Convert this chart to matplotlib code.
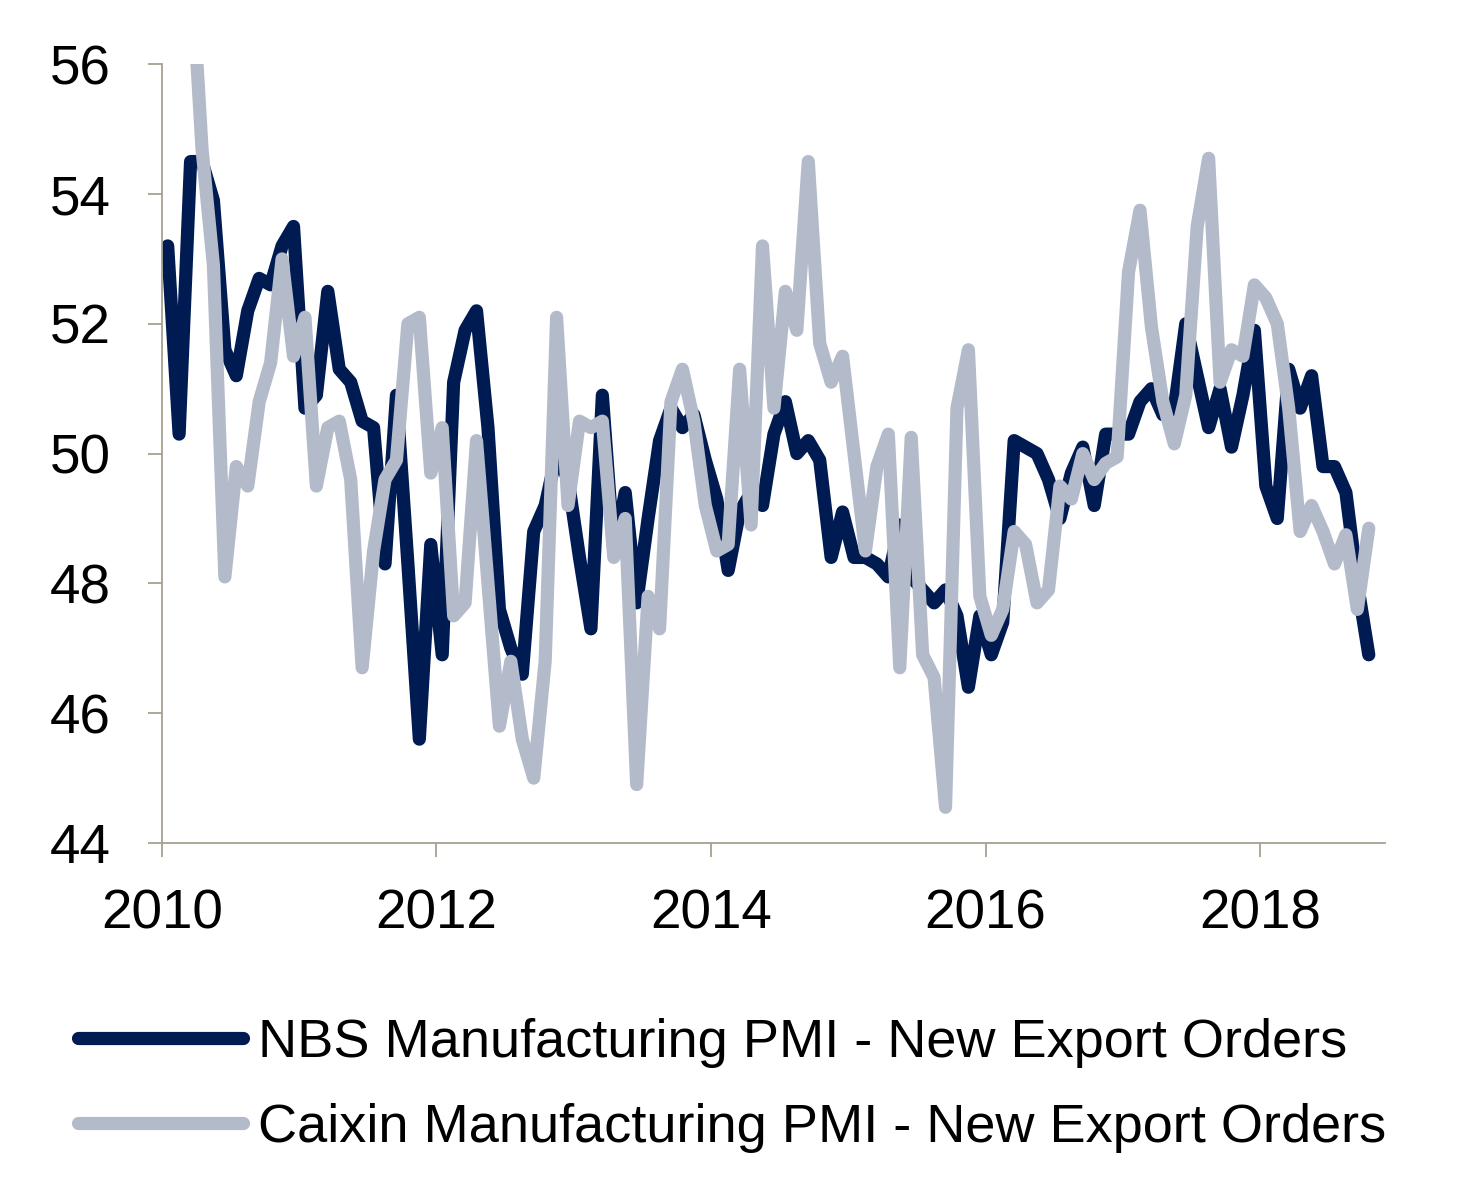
import matplotlib
matplotlib.use("Agg")
import matplotlib.pyplot as plt
import numpy as np

plt.rcParams['font.family'] = ['Liberation Sans', 'DejaVu Sans']

# monthly readings, Jan 2010 - Oct 2018
nbs = [53.2, 50.3, 54.5, 54.5, 53.9, 51.6, 51.2, 52.2, 52.7, 52.6, 53.2, 53.5,
       50.7, 50.9, 52.5, 51.3, 51.1, 50.5, 50.4, 48.3, 50.9, 48.3, 45.6, 48.6,
       46.9, 51.1, 51.9, 52.2, 50.4, 47.6, 47.0, 46.6, 48.8, 49.2, 50.0, 49.6,
       48.4, 47.3, 50.9, 48.5, 49.4, 47.7, 49.0, 50.2, 50.7, 50.4, 50.6, 49.9,
       49.3, 48.2, 49.1, 49.4, 49.2, 50.3, 50.8, 50.0, 50.2, 49.9, 48.4, 49.1,
       48.4, 48.4, 48.3, 48.1, 48.9, 48.1, 47.9, 47.7, 47.9, 47.5, 46.4, 47.5,
       46.9, 47.4, 50.2, 50.1, 50.0, 49.6, 49.0, 49.7, 50.1, 49.2, 50.3, 50.3,
       50.3, 50.8, 51.0, 50.6, 50.7, 52.0, 51.2, 50.4, 51.0, 50.1, 50.9, 51.9,
       49.5, 49.0, 51.3, 50.7, 51.2, 49.8, 49.8, 49.4, 48.0, 46.9]

caixin = [57.2, 57.5, 57.7, 54.7, 52.9, 48.1, 49.8, 49.5, 50.8, 51.4, 53.0, 51.5,
          52.1, 49.5, 50.4, 50.5, 49.6, 46.7, 48.5, 49.6, 49.9, 52.0, 52.1, 49.7,
          50.4, 47.5, 47.7, 50.2, 48.0, 45.8, 46.8, 45.6, 45.0, 46.8, 52.1, 49.2,
          50.5, 50.4, 50.5, 48.4, 49.0, 44.9, 47.8, 47.3, 50.8, 51.3, 50.5, 49.2,
          48.5, 48.6, 51.3, 48.9, 53.2, 50.7, 52.5, 51.9, 54.5, 51.7, 51.1, 51.5,
          50.0, 48.5, 49.8, 50.3, 46.7, 50.25, 46.9, 46.55, 44.55, 50.7, 51.6, 47.8,
          47.2, 47.6, 48.8, 48.6, 47.7, 47.9, 49.5, 49.3, 50.0, 49.6, 49.85, 49.95,
          52.8, 53.75, 51.95, 50.8, 50.15, 50.9, 53.5, 54.55, 51.1, 51.6, 51.5, 52.6,
          52.4, 52.0, 50.7, 48.8, 49.2, 48.8, 48.3, 48.75, 47.6, 48.85]

labels = ['NBS Manufacturing PMI - New Export Orders',
          'Caixin Manufacturing PMI - New Export Orders']
year_ticks = [2010, 2012, 2014, 2016, 2018]
y_ticks = [44, 46, 48, 50, 52, 54, 56]

# mid-month positions in fractional years
t = 2010 + (np.arange(len(nbs)) + 0.5) / 12

navy = '#001a52'
grey = '#b3bac9'
axis_col = '#a6a08f'

fig = plt.figure(figsize=(14.63, 12), dpi=100)
ax = fig.add_axes([0.1107, 0.2975, 0.836, 0.649])

ax.plot(t, nbs, color=navy, lw=9.5, solid_joinstyle='round', solid_capstyle='round', label=labels[0])
ax.plot(t, caixin, color=grey, lw=9.5, solid_joinstyle='round', solid_capstyle='round', label=labels[1])

ax.set_xlim(2010, 2018.91)
ax.set_ylim(44, 56)
ax.set_xticks(year_ticks)
ax.set_xticklabels([str(y) for y in year_ticks])
ax.set_yticks(y_ticks)

for side in ['top', 'right']:
    ax.spines[side].set_visible(False)
for side in ['left', 'bottom']:
    ax.spines[side].set_color(axis_col)
    ax.spines[side].set_linewidth(1.3)

ax.tick_params(axis='both', direction='out', length=10, width=1.3, color=axis_col,
               labelsize=39.5, labelcolor='black')
ax.tick_params(axis='y', pad=27)
ax.tick_params(axis='x', pad=23)

fig.legend(loc='upper left', bbox_to_anchor=(0.0385, 0.17), frameon=False,
           fontsize=39, handlelength=3.05, handletextpad=0.27, labelspacing=0.66,
           borderaxespad=0)

fig.savefig('out.png', dpi=100)
